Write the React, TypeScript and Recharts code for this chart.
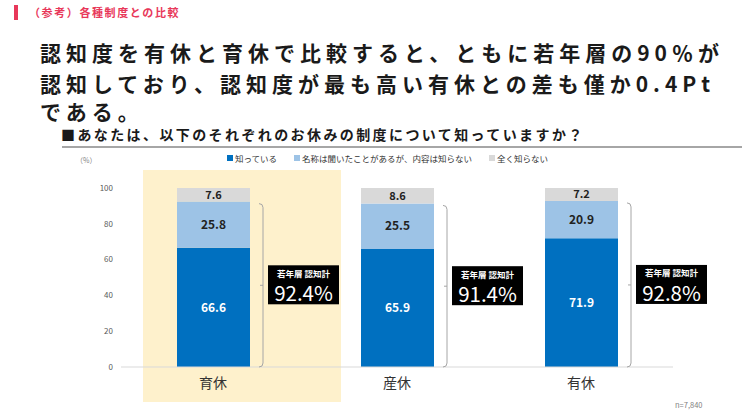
import React from 'react';
import { BarChart, Bar, XAxis, YAxis, LabelList } from 'recharts';

const categories = ['育休', '産休', '有休'];
const known = [66.6, 65.9, 71.9];
const heard = [25.8, 25.5, 20.9];
const unknown = [7.6, 8.6, 7.2];
const awareness = [92.4, 91.4, 92.8];
const yTicks = [0, 20, 40, 60, 80, 100];

const seriesNames = ['知っている', '名称は聞いたことがあるが、内容は知らない', '全く知らない'];
const COLORS = ['#0070C0', '#9DC3E6', '#D9D9D9'];

const headline = [
  '認知度を有休と育休で比較すると、ともに若年層の90％が',
  '認知しており、認知度が最も高い有休との差も僅か0.4Pt',
  'である。',
];
const headlineCenters = [52, 83, 111];

const FONT = "'Noto Sans CJK JP', sans-serif";

const chartData = categories.map((name, i) => ({
  name,
  known: known[i],
  heard: heard[i],
  unknown: unknown[i],
}));

const fmt = (v: any) => Number(v).toFixed(1);

// bracket + black box with the total awareness, drawn off the middle segment
const Annotation = (props: any) => {
  const vb = props.viewBox || {};
  const x = Number(vb.x ?? props.x);
  const y = Number(vb.y ?? props.y);
  const width = Number(vb.width ?? props.width);
  const height = Number(vb.height ?? props.height);
  const index = props.index;
  const value = heard[index];
  const unit = height / value;
  const bottom = y + height + known[index] * unit;
  const top = y + 2;
  const bx = x + width + 13;
  const mid = (top + bottom) / 2;
  const boxX = bx + 5;
  return (
    <g>
      <path
        d={`M${bx - 4},${top} Q${bx},${top} ${bx},${top + 4} L${bx},${bottom - 4} Q${bx},${bottom} ${bx - 4},${bottom} M${bx},${mid} L${bx - 3},${mid}`}
        stroke="#A6A6A6"
        strokeWidth={1}
        fill="none"
      />
      <rect x={boxX} y={mid - 20} width={71} height={39} fill="#000" />
      <text x={boxX + 35.5} y={mid - 12.5} textAnchor="middle" dominantBaseline="central" fill="#fff" fontSize={8.5} fontWeight={700} fontFamily={FONT}>
        若年層 認知計
      </text>
      <text x={boxX + 35.5} y={mid + 7} textAnchor="middle" dominantBaseline="central" fill="#fff" fontSize={20.5} fontFamily={FONT}>
        {awareness[index].toFixed(1)}%
      </text>
    </g>
  );
};

export default function App() {
  return (
    <div style={{ position: 'fixed', left: 0, top: 0, width: 750, height: 410, background: '#fff', fontFamily: FONT, overflow: 'hidden' }}>
      {/* header */}
      <div style={{ position: 'absolute', left: 14, top: 5, width: 4, height: 15, background: '#E8385A' }} />
      <div style={{ position: 'absolute', left: 29, top: 4, fontSize: 11, fontWeight: 700, color: '#E8385A', letterSpacing: 1.6, lineHeight: '16px' }}>
        （参考）各種制度との比較
      </div>
      {headline.map((line, i) => (
        <div
          key={i}
          style={{ position: 'absolute', left: 40, top: headlineCenters[i] - 15.5, fontSize: 21, fontWeight: 700, color: '#1a1a1a', letterSpacing: 5, lineHeight: '31px', whiteSpace: 'nowrap' }}
        >
          {line}
        </div>
      ))}
      <div style={{ position: 'absolute', left: 61, top: 127, fontSize: 14, fontWeight: 700, color: '#1a1a1a', letterSpacing: 2.4, lineHeight: '14px', whiteSpace: 'nowrap' }}>
        ■あなたは、以下のそれぞれのお休みの制度について知っていますか？
      </div>
      <div style={{ position: 'absolute', left: 62, top: 146, width: 680, height: 2, background: '#A6A6A6' }} />
      <div style={{ position: 'absolute', left: 76, top: 155, fontSize: 7, color: '#7f7f7f' }}>（%）</div>

      {/* legend */}
      <div style={{ position: 'absolute', left: 227, top: 152, display: 'flex', fontSize: 8.5, color: '#333', lineHeight: '12px' }}>
        {seriesNames.map((n, i) => (
          <div key={n} style={{ display: 'flex', alignItems: 'center', marginRight: 17 }}>
            <span style={{ width: 6, height: 6, background: COLORS[i], display: 'inline-block', marginRight: 2 }} />
            {n}
          </div>
        ))}
      </div>

      {/* highlight for 育休 */}
      <div style={{ position: 'absolute', left: 143, top: 170, width: 198, height: 232, background: '#FEF1CC' }} />

      <div style={{ position: 'absolute', left: 0, top: 0 }}>
        <BarChart
          width={750}
          height={410}
          data={chartData}
          margin={{ top: 188, right: 77, bottom: 0, left: 81 }}
          barSize={73}
        >
          <XAxis
            dataKey="name"
            axisLine={{ stroke: '#D9D9D9' }}
            tickLine={false}
            tickSize={0}
            tickMargin={11}
            height={43}
            tick={{ fontSize: 14, fill: '#333', fontFamily: FONT }}
          />
          <YAxis
            domain={[0, 100]}
            ticks={yTicks}
            width={40}
            axisLine={false}
            tickLine={false}
            tickSize={0}
            tickMargin={8}
            tick={{ fontSize: 8, fill: '#595959', fontFamily: FONT }}
          />
          <Bar dataKey="known" name={seriesNames[0]} stackId="a" fill={COLORS[0]} isAnimationActive={false}>
            <LabelList dataKey="known" position="center" formatter={fmt} fill="#fff" fontSize={12} fontWeight={700} fontFamily={FONT} />
          </Bar>
          <Bar dataKey="heard" name={seriesNames[1]} stackId="a" fill={COLORS[1]} isAnimationActive={false}>
            <LabelList dataKey="heard" position="center" formatter={fmt} fill="#222" fontSize={12} fontWeight={700} fontFamily={FONT} />
            <LabelList dataKey="heard" content={<Annotation />} />
          </Bar>
          <Bar dataKey="unknown" name={seriesNames[2]} stackId="a" fill={COLORS[2]} isAnimationActive={false}>
            <LabelList dataKey="unknown" position="center" formatter={fmt} fill="#222" fontSize={11} fontWeight={700} fontFamily={FONT} />
          </Bar>
        </BarChart>
      </div>

      <div style={{ position: 'absolute', left: 675, top: 399, fontSize: 7.5, color: '#7f7f7f' }}>n=7,840</div>
    </div>
  );
}
